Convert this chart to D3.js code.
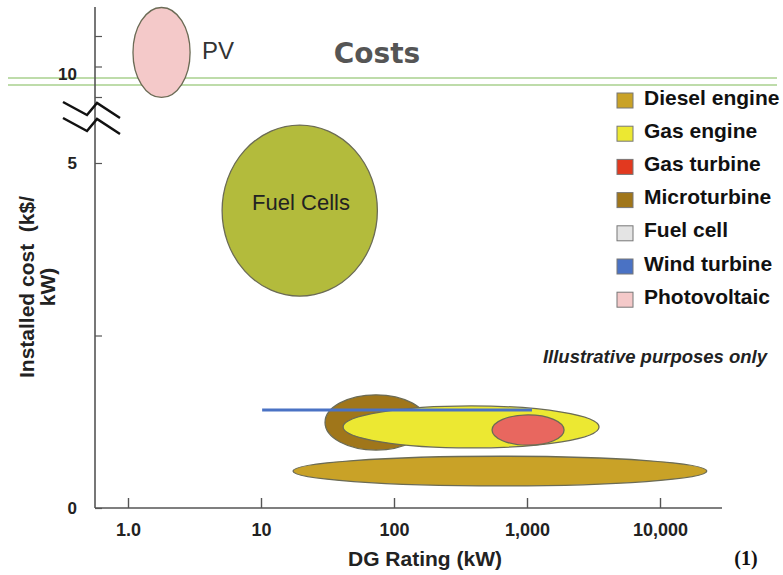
<!DOCTYPE html>
<html><head><meta charset="utf-8">
<script src="https://cdn.jsdelivr.net/npm/d3@7"></script>
<style>body{margin:0;background:#fff}svg{display:block}</style>
</head><body>
<svg id="c" width="783" height="575"></svg>
<script>
// ---- data ----
const technologies = ["Diesel engine","Gas engine","Gas turbine","Microturbine","Fuel cell","Wind turbine","Photovoltaic"];
const legendColors = ["#c9a227","#ece832","#e2391f","#a0761a","#e4e4e4","#4a72c4","#f4c9c9"];
// ellipse ranges: [kW min, kW max], [k$/kW min, k$/kW max]
const ellipseNames  = ["Fuel Cells","PV","Diesel engine","Microturbine","Gas engine","Gas turbine"];
const ellipseKwMin  = [5.1, 1.09, 17.4, 30.3, 41.4, 546];
const ellipseKwMax  = [75, 2.93, 22500, 177, 3480, 1900];
const ellipseCostMin= [3.07, 7.97, 0.32, 0.84, 0.87, 0.91];
const ellipseCostMax= [5.55, 13.87, 0.75, 1.64, 1.48, 1.35];
const ellipseUpper  = [false, true, false, false, false, false];
const ellipseFill   = ["#b3bb3c","#f4c9c9","#c9a227","#a0761a","#ece832","#e8675f"];
const windKw = [10.2, 1090];
const windCost = 1.42;
const xTicks = [1, 10, 100, 1000, 10000];
const xTickLabels = ["1.0","10","100","1,000","10,000"];
const yLowTicks = [0, 2.5, 5];
const yLowLabels = ["0","","5"];
const yTopTicks = [8, 10, 12];
const yTopLabels = ["","10",""];

// ---- scales ----
const svg = d3.select("#c");
const x = d3.scaleLog().domain([1, 10000]).range([128, 660]);
const yLow = d3.scaleLinear().domain([0, 5]).range([508, 163]);
const yTop = d3.scaleLinear().domain([8, 12]).range([97, 36]);
const axisColor = "#555";
const font = "'Liberation Sans', Arial, sans-serif";

// green double line
[78, 85].forEach(yy => svg.append("line").attr("x1", 8).attr("x2", 777).attr("y1", yy).attr("y2", yy)
  .attr("stroke", "#a9d18e").attr("stroke-width", 1.5));

// ellipses
ellipseNames.forEach((n, i) => {
  const ys = ellipseUpper[i] ? yTop : yLow;
  const x0 = x(ellipseKwMin[i]), x1 = x(ellipseKwMax[i]);
  const y0 = ys(ellipseCostMax[i]), y1 = ys(ellipseCostMin[i]);
  svg.append("ellipse").attr("cx", (x0 + x1) / 2).attr("cy", (y0 + y1) / 2)
    .attr("rx", (x1 - x0) / 2).attr("ry", (y1 - y0) / 2)
    .attr("fill", ellipseFill[i]).attr("stroke", "#6b6b55").attr("stroke-width", 1.3);
});
// wind line
svg.append("line").attr("x1", x(windKw[0])).attr("x2", x(windKw[1]))
  .attr("y1", yLow(windCost)).attr("y2", yLow(windCost))
  .attr("stroke", "#4a72c4").attr("stroke-width", 3);

// axes lines
svg.append("line").attr("x1", 95).attr("x2", 95).attr("y1", 7).attr("y2", 508)
  .attr("stroke", axisColor).attr("stroke-width", 1.6);
svg.append("line").attr("x1", 95).attr("x2", 722).attr("y1", 508).attr("y2", 508)
  .attr("stroke", axisColor).attr("stroke-width", 1.6);

// x axis
const gx = svg.append("g").attr("transform", "translate(0,508)")
  .call(d3.axisBottom(x).tickValues(xTicks).tickFormat((d, i) => xTickLabels[i])
    .tickSizeInner(-10).tickSizeOuter(0).tickPadding(15));
gx.select(".domain").remove();
gx.selectAll("line").attr("stroke", axisColor).attr("stroke-width", 1.4);
gx.selectAll("text").attr("font-family", font).attr("font-weight", "bold")
  .attr("font-size", 18).attr("fill", "#222");

// y axis lower
const gyl = svg.append("g").attr("transform", "translate(95,0)")
  .call(d3.axisLeft(yLow).tickValues(yLowTicks).tickFormat((d, i) => yLowLabels[i])
    .tickSizeInner(-7).tickSizeOuter(0).tickPadding(18));
gyl.select(".domain").remove();
gyl.selectAll("line").attr("stroke", axisColor).attr("stroke-width", 1.2);
gyl.selectAll("text").attr("font-family", font).attr("font-weight", "bold")
  .attr("font-size", 17).attr("fill", "#222");

// y axis upper
const gyt = svg.append("g").attr("transform", "translate(95,0)")
  .call(d3.axisLeft(yTop).tickValues(yTopTicks).tickFormat((d, i) => yTopLabels[i])
    .tickSizeInner(-7).tickSizeOuter(0).tickPadding(18));
gyt.select(".domain").remove();
gyt.selectAll("line").attr("stroke", axisColor).attr("stroke-width", 1.2);
gyt.selectAll("text").attr("font-family", font).attr("font-weight", "bold")
  .attr("font-size", 17).attr("fill", "#222").attr("transform", "translate(0,8)");

// break marks
const brk = [[63,102],[87,115],[97,103],[120,118]];
[0, 16].forEach(off => svg.append("path")
  .attr("d", d3.line()(brk.map(p => [p[0], p[1] + off])))
  .attr("fill", "none").attr("stroke", "#111").attr("stroke-width", 2.5));

// texts
svg.append("text").attr("x", 377).attr("y", 63).attr("text-anchor", "middle")
  .attr("font-family", "'DejaVu Sans', Verdana, sans-serif").attr("font-weight", "bold")
  .attr("font-size", 28).attr("fill", "#555").text("Costs");
svg.append("text").attr("x", 202).attr("y", 59)
  .attr("font-family", font).attr("font-size", 24).attr("fill", "#333").text("PV");
svg.append("text").attr("x", 301).attr("y", 210).attr("text-anchor", "middle")
  .attr("font-family", font).attr("font-size", 22).attr("fill", "#222").text("Fuel Cells");
svg.append("text").attr("x", 655).attr("y", 363).attr("text-anchor", "middle")
  .attr("font-family", font).attr("font-size", 18.5).attr("font-weight", "bold")
  .attr("font-style", "italic").attr("fill", "#222").text("Illustrative purposes only");

// legend
technologies.forEach((t, i) => {
  const yy = 100.5 + i * 33.2;
  svg.append("rect").attr("x", 617).attr("y", yy - 7.5).attr("width", 16).attr("height", 15)
    .attr("fill", legendColors[i]).attr("stroke", "#777").attr("stroke-width", 1);
  svg.append("text").attr("x", 644).attr("y", yy + 4).attr("font-family", font)
    .attr("font-weight", "bold").attr("font-size", 21).attr("fill", "#111").text(t);
});

// axis titles
svg.append("text").attr("x", 425).attr("y", 566).attr("text-anchor", "middle")
  .attr("font-family", font).attr("font-weight", "bold").attr("font-size", 21)
  .attr("fill", "#222").text("DG Rating (kW)");
const yt = svg.append("text").attr("transform", "translate(34,287) rotate(-90)")
  .attr("text-anchor", "middle").attr("font-family", font).attr("font-weight", "bold")
  .attr("font-size", 21).attr("fill", "#222");
yt.append("tspan").attr("x", 0).attr("dy", 0).text("Installed cost\u00a0 (k$/");
yt.append("tspan").attr("x", 0).attr("dy", 21).text("kW)");
svg.append("text").attr("x", 746).attr("y", 565).attr("text-anchor", "middle")
  .attr("font-family", "'Liberation Serif', 'Times New Roman', serif").attr("font-weight", "bold")
  .attr("font-size", 20).attr("fill", "#111").text("(1)");
</script>
</body></html>
